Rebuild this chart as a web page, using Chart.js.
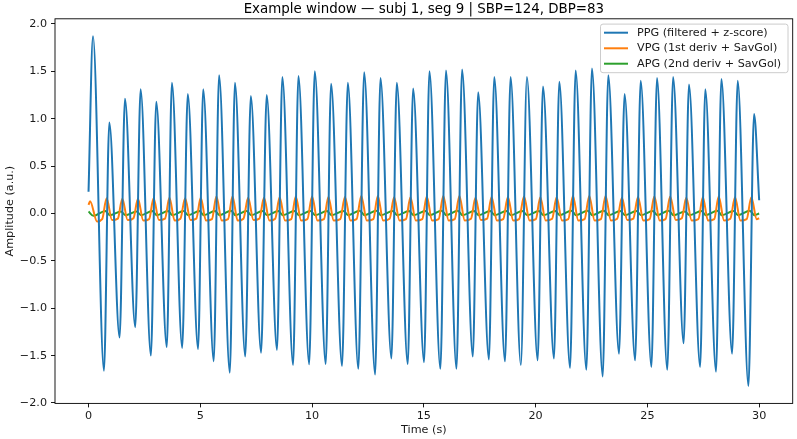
<!DOCTYPE html>
<html>
<head>
<meta charset="utf-8">
<script src="https://cdn.jsdelivr.net/npm/chart.js@4.4.1/dist/chart.umd.min.js"></script>
<style>
  html, body { margin: 0; padding: 0; background: #fff; }
  #wrap { width: 797px; height: 439px; }
</style>
</head>
<body>
<div id="wrap"><canvas id="chart" width="797" height="439"></canvas></div>
<script>
const TITLE = 'Example window \u2014 subj 1, seg 9 | SBP=124, DBP=83';
const SERIES_NAMES = ['PPG (filtered + z-score)', 'VPG (1st deriv + SavGol)', 'APG (2nd deriv + SavGol)'];
const COLORS = ['#1f77b4', '#ff7f0e', '#2ca02c'];
const X_TICKS = [0, 5, 10, 15, 20, 25, 30];
const Y_TICKS = [-2.0, -1.5, -1.0, -0.5, 0.0, 0.5, 1.0, 1.5, 2.0];

// PPG: window ends, systolic peaks and troughs (time s, amplitude)
const ppgEdgeT = [0, 30.0];
const ppgEdgeV = [0.23, 0.14];
const ppgPeakT = [0.20, 0.93, 1.63, 2.33, 3.03, 3.73, 4.44, 5.13, 5.84, 6.55, 7.26, 7.97, 8.67, 9.39,
  10.12, 10.85, 11.60, 12.33, 13.06, 13.79, 14.52, 15.25, 15.99, 16.71, 17.43, 18.15, 18.88, 19.61,
  20.33, 21.06, 21.79, 22.52, 23.25, 23.98, 24.70, 25.43, 26.15, 26.86, 27.59, 28.31, 29.04, 29.77];
const ppgPeakV = [1.87, 0.96, 1.21, 1.31, 1.18, 1.38, 1.26, 1.31, 1.46, 1.38, 1.24, 1.25, 1.44, 1.45,
  1.50, 1.37, 1.38, 1.49, 1.43, 1.38, 1.32, 1.50, 1.51, 1.52, 1.28, 1.44, 1.44, 1.44,
  1.34, 1.39, 1.51, 1.53, 1.46, 1.26, 1.40, 1.43, 1.44, 1.36, 1.31, 1.42, 1.40, 1.05];
const ppgTroughT = [0.69, 1.39, 2.09, 2.79, 3.50, 4.19, 4.90, 5.60, 6.32, 7.01, 7.72, 8.43, 9.15, 9.87,
  10.61, 11.34, 12.07, 12.82, 13.55, 14.28, 15.01, 15.74, 16.46, 17.19, 17.91, 18.63, 19.34,
  20.09, 20.82, 21.54, 22.27, 23.00, 23.73, 24.45, 25.18, 25.89, 26.62, 27.36, 28.07, 28.79, 29.52];
const ppgTroughV = [-1.66, -1.31, -1.20, -1.50, -1.41, -1.42, -1.43, -1.56, -1.68, -1.51, -1.47, -1.44, -1.60, -1.59,
  -1.59, -1.61, -1.64, -1.70, -1.53, -1.59, -1.57, -1.64, -1.64, -1.51, -1.54, -1.56, -1.60,
  -1.55, -1.53, -1.63, -1.65, -1.72, -1.48, -1.55, -1.62, -1.65, -1.37, -1.62, -1.67, -1.48, -1.82];

// VPG: ends, upstroke peaks, post-peak minima, late-diastole shoulders
const vpgEdgeT = [0, 30.0];
const vpgEdgeV = [0.09, -0.05];
const vpgPeakT = [0.07, 0.81, 1.51, 2.21, 2.91, 3.62, 4.32, 5.02, 5.72, 6.44, 7.14, 7.85, 8.55, 9.27,
  10.00, 10.73, 11.47, 12.20, 12.94, 13.67, 14.40, 15.13, 15.87, 16.59, 17.31, 18.03, 18.76, 19.48,
  20.21, 20.94, 21.67, 22.40, 23.13, 23.86, 24.58, 25.31, 26.02, 26.74, 27.48, 28.19, 28.92, 29.65];
const vpgPeakV = [0.13, 0.16, 0.155, 0.155, 0.16, 0.165, 0.16, 0.165, 0.18, 0.18, 0.165, 0.165, 0.17, 0.18,
  0.18, 0.175, 0.175, 0.185, 0.185, 0.17, 0.17, 0.18, 0.185, 0.185, 0.165, 0.175, 0.175, 0.18,
  0.17, 0.17, 0.185, 0.185, 0.185, 0.165, 0.175, 0.18, 0.18, 0.165, 0.17, 0.18, 0.17, 0.17];
const vpgLowT = [0.38, 1.05, 1.75, 2.45, 3.15, 3.85, 4.56, 5.25, 5.96, 6.67, 7.38, 8.09, 8.79, 9.51,
  10.24, 10.97, 11.72, 12.45, 13.18, 13.91, 14.64, 15.37, 16.11, 16.83, 17.55, 18.27, 19.00, 19.73,
  20.45, 21.18, 21.91, 22.64, 23.37, 24.10, 24.82, 25.55, 26.27, 26.98, 27.71, 28.43, 29.16, 29.89];
const vpgLowV = [-0.085, -0.07, -0.07, -0.075, -0.07, -0.075, -0.07, -0.075, -0.075, -0.075, -0.07, -0.075, -0.075, -0.075,
  -0.075, -0.075, -0.075, -0.075, -0.075, -0.075, -0.075, -0.075, -0.075, -0.075, -0.07, -0.075, -0.075, -0.075,
  -0.075, -0.075, -0.075, -0.075, -0.075, -0.07, -0.075, -0.075, -0.07, -0.075, -0.075, -0.075, -0.075, -0.06];
const vpgShoulderT = [0.61, 1.31, 2.01, 2.71, 3.42, 4.11, 4.82, 5.52, 6.24, 6.93, 7.64, 8.35, 9.07, 9.79,
  10.53, 11.26, 11.99, 12.74, 13.47, 14.20, 14.93, 15.66, 16.38, 17.11, 17.83, 18.55, 19.26,
  20.01, 20.74, 21.46, 22.19, 22.92, 23.65, 24.37, 25.10, 25.81, 26.54, 27.28, 27.99, 28.71, 29.44];
const vpgShoulderV = [-0.06, -0.055, -0.05, -0.06, -0.055, -0.055, -0.055, -0.06, -0.06, -0.055, -0.055, -0.055, -0.06, -0.06,
  -0.06, -0.06, -0.06, -0.06, -0.055, -0.06, -0.06, -0.06, -0.06, -0.055, -0.055, -0.06, -0.06,
  -0.06, -0.055, -0.06, -0.06, -0.06, -0.055, -0.055, -0.06, -0.06, -0.05, -0.06, -0.06, -0.055, -0.06];

// APG: ends, positive bumps at the foot, negative dips at the peak
const apgEdgeT = [0, 30.0];
const apgEdgeV = [0.02, 0.0];
const apgUpT = [0.75, 1.45, 2.15, 2.85, 3.56, 4.25, 4.96, 5.66, 6.38, 7.07, 7.78, 8.49, 9.21, 9.93,
  10.67, 11.40, 12.13, 12.88, 13.61, 14.34, 15.07, 15.80, 16.52, 17.25, 17.97, 18.69, 19.40,
  20.15, 20.88, 21.60, 22.33, 23.06, 23.79, 24.51, 25.24, 25.95, 26.68, 27.42, 28.13, 28.85, 29.58];
const apgUpV = [0.025, 0.02, 0.02, 0.025, 0.025, 0.025, 0.025, 0.025, 0.03, 0.025, 0.025, 0.025, 0.025, 0.025,
  0.025, 0.025, 0.03, 0.03, 0.025, 0.025, 0.025, 0.03, 0.03, 0.025, 0.025, 0.025, 0.025,
  0.025, 0.025, 0.03, 0.03, 0.03, 0.025, 0.025, 0.025, 0.03, 0.02, 0.025, 0.03, 0.025, 0.03];
const apgDownT = [0.22, 0.95, 1.65, 2.35, 3.05, 3.75, 4.46, 5.15, 5.86, 6.57, 7.28, 7.99, 8.69, 9.41,
  10.14, 10.87, 11.62, 12.35, 13.08, 13.81, 14.54, 15.27, 16.01, 16.73, 17.45, 18.17, 18.90, 19.63,
  20.35, 21.08, 21.81, 22.54, 23.27, 24.00, 24.72, 25.45, 26.17, 26.88, 27.61, 28.33, 29.06, 29.79];
const apgDownV = [-0.025, -0.018, -0.018, -0.018, -0.018, -0.018, -0.018, -0.018, -0.018, -0.018, -0.018, -0.018, -0.018, -0.018,
  -0.018, -0.018, -0.018, -0.018, -0.018, -0.018, -0.018, -0.018, -0.018, -0.018, -0.018, -0.018, -0.018, -0.018,
  -0.018, -0.018, -0.018, -0.018, -0.018, -0.018, -0.018, -0.018, -0.018, -0.018, -0.018, -0.018, -0.018, -0.018];

const FONT = '"DejaVu Sans", "Liberation Sans", sans-serif';

function merge(...pairs) {
  const pts = [];
  for (let i = 0; i < pairs.length; i += 2) {
    pairs[i].forEach((t, j) => pts.push({ x: t, y: pairs[i + 1][j] }));
  }
  return pts.sort((a, b) => a.x - b.x);
}

const ppgData = merge(ppgEdgeT, ppgEdgeV, ppgPeakT, ppgPeakV, ppgTroughT, ppgTroughV);
const vpgData = merge(vpgEdgeT, vpgEdgeV, vpgPeakT, vpgPeakV, vpgLowT, vpgLowV, vpgShoulderT, vpgShoulderV);
const apgData = merge(apgEdgeT, apgEdgeV, apgUpT, apgUpV, apgDownT, apgDownV);

function series(label, data, color) {
  return {
    label, data,
    borderColor: color,
    backgroundColor: color,
    borderWidth: 2,
    pointRadius: 0,
    fill: false,
    cubicInterpolationMode: 'monotone'
  };
}

const frame = {
  id: 'frame',
  beforeDraw(chart) {
    const c = chart.ctx;
    c.save();
    c.fillStyle = '#fff';
    c.fillRect(0, 0, chart.width, chart.height);
    c.restore();
  },
  afterDraw(chart) {
    const c = chart.ctx;
    const a = chart.chartArea;
    c.save();
    // spines
    c.strokeStyle = '#000';
    c.lineWidth = 0.9;
    c.strokeRect(a.left, a.top, a.right - a.left, a.bottom - a.top);
    // title
    c.fillStyle = '#000';
    c.font = '13.4px ' + FONT;
    c.textAlign = 'center';
    c.textBaseline = 'alphabetic';
    c.fillText(TITLE, (a.left + a.right) / 2, 12.5);
    // legend
    const bx = 600.5, by = 24.1, bw = 187.5, bh = 48.6;
    c.beginPath();
    c.roundRect(bx, by, bw, bh, 2.5);
    c.fillStyle = 'rgba(255,255,255,0.8)';
    c.fill();
    c.strokeStyle = '#cccccc';
    c.lineWidth = 1;
    c.stroke();
    c.font = '11.2px ' + FONT;
    c.textAlign = 'left';
    c.textBaseline = 'middle';
    const rows = [32.7, 48.3, 63.7];
    SERIES_NAMES.forEach((name, i) => {
      c.strokeStyle = COLORS[i];
      c.lineWidth = 2;
      c.beginPath();
      c.moveTo(604, rows[i]);
      c.lineTo(628, rows[i]);
      c.stroke();
      c.fillStyle = '#1a1a1a';
      c.fillText(name, 637, rows[i]);
    });
    c.restore();
  }
};

const tickFont = { family: FONT, size: 11.2 };

new Chart(document.getElementById('chart'), {
  type: 'line',
  data: {
    datasets: [
      series(SERIES_NAMES[0], ppgData, COLORS[0]),
      series(SERIES_NAMES[1], vpgData, COLORS[1]),
      series(SERIES_NAMES[2], apgData, COLORS[2])
    ]
  },
  options: {
    responsive: false,
    animation: false,
    devicePixelRatio: 1,
    layout: { padding: { left: 0, right: 4.3, top: 18.8, bottom: 0 } },
    plugins: { legend: { display: false }, tooltip: { enabled: false }, title: { display: false } },
    scales: {
      x: {
        type: 'linear',
        min: -1.5,
        max: 31.5,
        afterBuildTicks: (s) => { s.ticks = X_TICKS.map((v) => ({ value: v })); },
        afterFit: (s) => { s.height = 35.6; },
        ticks: { font: tickFont, color: '#1a1a1a', padding: 2, maxRotation: 0, autoSkip: false, callback: (v) => String(v) },
        grid: { display: true, drawOnChartArea: false, drawTicks: true, tickLength: 4, tickWidth: 0.9, tickColor: '#000' },
        border: { display: false },
        title: { display: true, text: 'Time (s)', font: tickFont, color: '#1a1a1a', padding: { top: 0, bottom: 2 } }
      },
      y: {
        type: 'linear',
        min: -2.0045,
        max: 2.0545,
        afterBuildTicks: (s) => { s.ticks = Y_TICKS.map((v) => ({ value: v })); },
        afterFit: (s) => { s.width = 55; },
        ticks: { font: tickFont, color: '#1a1a1a', padding: 4, autoSkip: false, callback: (v) => v.toFixed(1).replace('-', '\u2212') },
        grid: { display: true, drawOnChartArea: false, drawTicks: true, tickLength: 4, tickWidth: 0.9, tickColor: '#000' },
        border: { display: false },
        title: { display: true, text: 'Amplitude (a.u.)', font: tickFont, color: '#1a1a1a', padding: { top: 3, bottom: 0 } }
      }
    }
  },
  plugins: [frame]
});
</script>
</body>
</html>
